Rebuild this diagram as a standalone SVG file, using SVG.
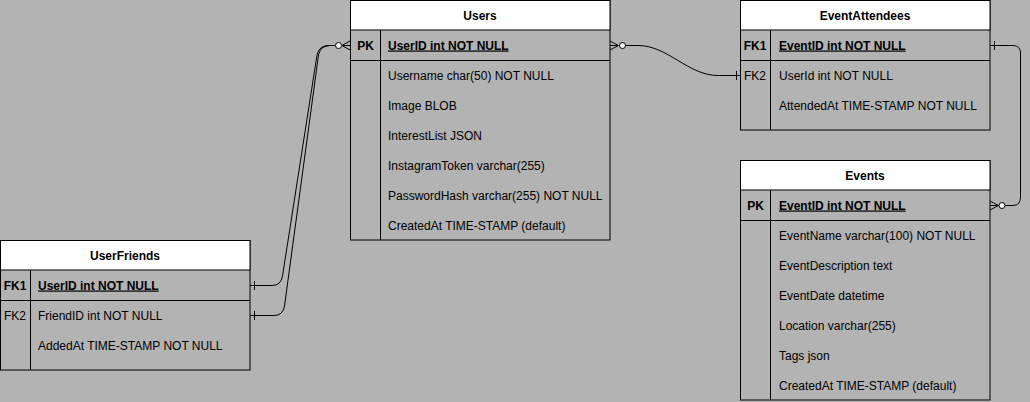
<svg xmlns="http://www.w3.org/2000/svg" width="1030" height="402" viewBox="0 0 1030 402">
<style>
.bg{fill:#b3b3b3}
.box{fill:none;stroke:#000;stroke-width:1}
.hdr{fill:#fff;stroke:#000;stroke-width:1}
.ln{stroke:#000;stroke-width:1;fill:none}
text{font-family:"Liberation Sans",Arial,Helvetica,sans-serif;font-size:12px;fill:#000}
.t{font-weight:bold;text-anchor:middle}
.k{font-weight:bold;text-anchor:middle}
.kn{text-anchor:middle}
.pk{font-weight:bold;text-decoration:underline}
.c{stroke:#000;stroke-width:1;fill:none}
.dot{fill:#fff;stroke:#000;stroke-width:1}
</style>
<rect class="bg" x="0" y="0" width="1030" height="402"/>

<g id="Users">
<rect class="box" x="350.5" y="0.5" width="259.5" height="239.5"/>
<rect class="hdr" x="350.5" y="0.5" width="259.5" height="29.5"/>
<line class="ln" x1="350.5" y1="60.5" x2="610" y2="60.5"/>
<line class="ln" x1="380.5" y1="30" x2="380.5" y2="240"/>
<text class="t" x="480" y="19.5">Users</text>
<text class="k" x="365.5" y="49.5">PK</text>
<text class="pk" x="388" y="49.5">UserID int NOT NULL</text>
<text x="388" y="79.5">Username char(50) NOT NULL</text>
<text x="388" y="109.5">Image BLOB</text>
<text x="388" y="139.5">InterestList JSON</text>
<text x="388" y="169.5">InstagramToken varchar(255)</text>
<text x="388" y="199.5">PasswordHash varchar(255) NOT NULL</text>
<text x="388" y="229.5">CreatedAt TIME-STAMP (default)</text>
</g>

<g id="UserFriends">
<rect class="box" x="0.5" y="240.5" width="249.5" height="129.5"/>
<rect class="hdr" x="0.5" y="240.5" width="249.5" height="29.5"/>
<line class="ln" x1="0.5" y1="300.5" x2="250" y2="300.5"/>
<line class="ln" x1="30.5" y1="270" x2="30.5" y2="370"/>
<text class="t" x="125" y="259.5">UserFriends</text>
<text class="k" x="15" y="289.5">FK1</text>
<text class="pk" x="38" y="289.5">UserID int NOT NULL</text>
<text class="kn" x="15" y="319.5">FK2</text>
<text x="38" y="319.5">FriendID int NOT NULL</text>
<text x="38" y="349.5">AddedAt TIME-STAMP NOT NULL</text>
</g>

<g id="EventAttendees">
<rect class="box" x="740.5" y="0.5" width="249.5" height="129.5"/>
<rect class="hdr" x="740.5" y="0.5" width="249.5" height="29.5"/>
<line class="ln" x1="740.5" y1="60.5" x2="990" y2="60.5"/>
<line class="ln" x1="770.5" y1="30" x2="770.5" y2="130"/>
<text class="t" x="865" y="19.5">EventAttendees</text>
<text class="k" x="755" y="49.5">FK1</text>
<text class="pk" x="779" y="49.5">EventID int NOT NULL</text>
<text class="kn" x="755" y="79.5">FK2</text>
<text x="779" y="79.5">UserId int NOT NULL</text>
<text x="779" y="109.5">AttendedAt TIME-STAMP NOT NULL</text>
</g>

<g id="Events">
<rect class="box" x="740.5" y="160.5" width="249.5" height="239.5"/>
<rect class="hdr" x="740.5" y="160.5" width="249.5" height="29.5"/>
<line class="ln" x1="740.5" y1="220.5" x2="990" y2="220.5"/>
<line class="ln" x1="770.5" y1="190" x2="770.5" y2="400"/>
<text class="t" x="865" y="179.5">Events</text>
<text class="k" x="755.5" y="209.5">PK</text>
<text class="pk" x="779" y="209.5">EventID int NOT NULL</text>
<text x="779" y="239.5">EventName varchar(100) NOT NULL</text>
<text x="779" y="269.5">EventDescription text</text>
<text x="779" y="299.5">EventDate datetime</text>
<text x="779" y="329.5">Location varchar(255)</text>
<text x="779" y="359.5">Tags json</text>
<text x="779" y="389.5">CreatedAt TIME-STAMP (default)</text>
</g>

<g id="connectors">
<!-- UserFriends.UserID -> Users.UserID -->
<path class="c" d="M250,285.5 L272,285.5 Q281,285.5 282.5,276 L317,55 Q319,45.5 329,45.5 L335,45.5"/>
<line class="c" x1="254.5" y1="281" x2="254.5" y2="290"/>
<!-- UserFriends.FriendID -> Users.UserID -->
<path class="c" d="M250,315.5 L274,315.5 Q283,315.5 284.5,306 L318.5,55 Q320.5,45.5 330,45.5 L335,45.5"/>
<line class="c" x1="254.5" y1="311" x2="254.5" y2="320"/>
<circle class="dot" cx="338.5" cy="45.5" r="3"/>
<path class="c" d="M350,41 L342,45.5 L350,50 M342,45.5 L350,45.5"/>
<!-- Users.UserID -> EventAttendees.UserId -->
<path class="c" d="M625.5,45.5 L638,45.5 C668,45.5 688,75.5 718,75.5 L740,75.5"/>
<line class="c" x1="736.5" y1="71" x2="736.5" y2="80"/>
<circle class="dot" cx="622.5" cy="45.5" r="3"/>
<path class="c" d="M610,41 L618.5,45.5 L610,50 M610,45.5 L618.5,45.5"/>
<!-- EventAttendees.EventID -> Events.EventID -->
<path class="c" d="M990,45.5 L1013,45.5 Q1020.5,45.5 1020.5,53 L1020.5,197 Q1020.5,205.5 1013,205.5 L1005,205.5"/>
<line class="c" x1="994.5" y1="41" x2="994.5" y2="50"/>
<circle class="dot" cx="1002" cy="205.5" r="3"/>
<path class="c" d="M990,201 L998.5,205.5 L990,210 M990,205.5 L998.5,205.5"/>
</g>
</svg>
